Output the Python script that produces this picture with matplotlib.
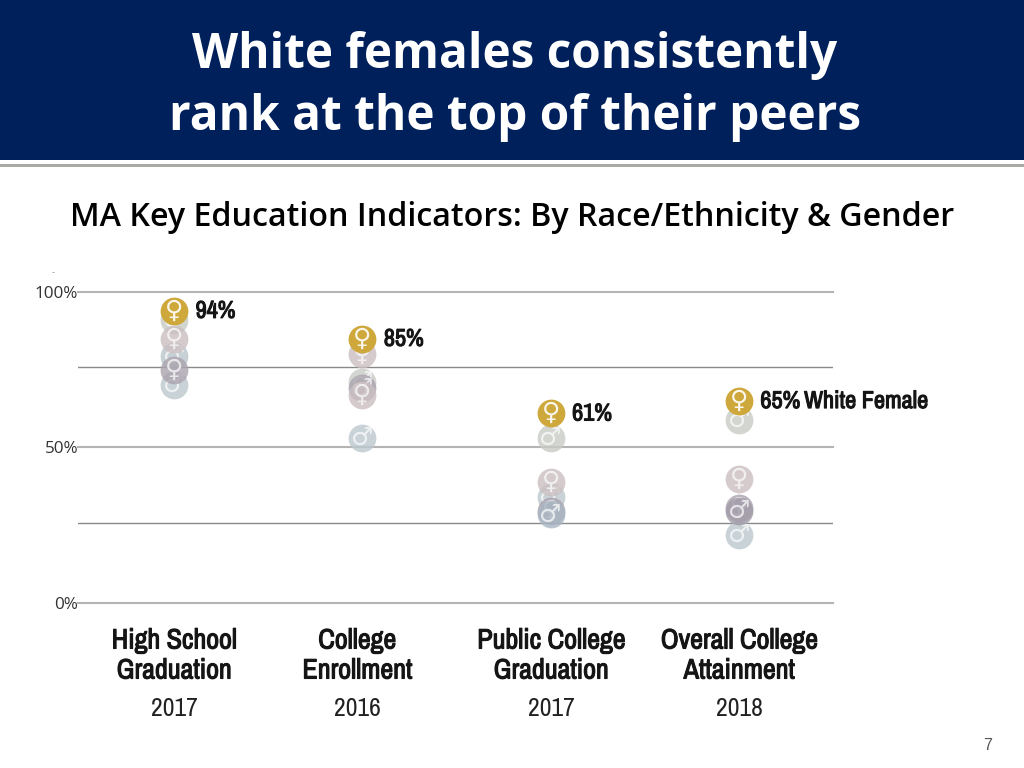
import matplotlib
matplotlib.use("Agg")
import matplotlib.pyplot as plt
import matplotlib.patheffects as pe
from matplotlib import font_manager as fm
from matplotlib.patches import Rectangle

W, H = 1024, 768

categories = ["High School\nGraduation", "College\nEnrollment", "Public College\nGraduation", "Overall College\nAttainment"]
years = ["2017", "2016", "2017", "2018"]
y_ticks = [0, 50.2, 100]
y_labels = ["0%", "50%", "100%"]
mid_lines = [25.7, 75.9]

# one row per category, drawn bottom to top, white female last
hs_values = [91, 70, 79.5, 75, 85, 94]
hs_signs = ["m", "m", "m", "f", "f", "f"]
hs_colors = ["#c9cbc6", "#bcc9ce", "#b9c5cb", "#aaa3ae", "#cbbfc1", "#cfa83c"]

enroll_values = [53, 71, 69, 67, 80, 85]
enroll_signs = ["m", "m", "m", "f", "f", "f"]
enroll_colors = ["#bcc9ce", "#c9cbc6", "#aaa3ae", "#cbbfc1", "#cbbfc1", "#cfa83c"]

public_values = [53, 34, 39, 29.5, 28.5, 61]
public_signs = ["m", "m", "f", "f", "m", "f"]
public_colors = ["#c9cbc6", "#bcc9ce", "#cbbfc1", "#aaa3ae", "#a8b6c2", "#cfa83c"]

overall_values = [59, 22, 40, 30.5, 29.5, 65]
overall_signs = ["m", "m", "f", "f", "m", "f"]
overall_colors = ["#c9cbc6", "#bcc9ce", "#cbbfc1", "#aaa3ae", "#a09ba8", "#cfa83c"]

top_labels = ["94%", "85%", "61%", "65%"]

all_values = [hs_values, enroll_values, public_values, overall_values]
all_signs = [hs_signs, enroll_signs, public_signs, overall_signs]
all_colors = [hs_colors, enroll_colors, public_colors, overall_colors]

names = sorted({f.name for f in fm.fontManager.ttflist})
cond = [n for n in names if "Narrow" in n or "Condensed" in n]
narrow = cond[0] if cond else "Roboto"
symbols = {"f": "\u2640", "m": "\u2642"}

# no heavy cut of the narrow face, thicken it with a stroke of the same colour
def thick(w):
    return [pe.withStroke(linewidth=w, foreground="#151515")]

fig = plt.figure(figsize=(W / 100, H / 100), dpi=100, facecolor="white")

def fx(px):
    return px / W

def fy(py):
    return 1 - py / H

# banner
fig.patches.append(Rectangle((0, fy(160)), 1, 160 / H, transform=fig.transFigure, facecolor="#00205c", edgecolor="none"))
fig.patches.append(Rectangle((0, fy(167)), 1, 2.5 / H, transform=fig.transFigure, facecolor="#a9aaa5", edgecolor="none"))
fig.text(fx(515), fy(56), "White females consistently", color="white", fontsize=34.4, fontweight="bold",
         family="Open Sans", ha="center", va="center")
fig.text(fx(515), fy(117), "rank at the top of their peers", color="white", fontsize=34.4, fontweight="bold",
         family="Open Sans", ha="center", va="center")
fig.text(fx(512), fy(217), "MA Key Education Indicators: By Race/Ethnicity & Gender", color="black", fontsize=23.2,
         fontweight="semibold", family="Open Sans", ha="center", va="center")

ax = fig.add_axes([fx(78), fy(603), fx(833 - 78), 311 / H])
ax.set_xlim(-0.51, 3.5)
ax.set_ylim(0, 100)
ax.patch.set_alpha(0)
for s in ax.spines.values():
    s.set_visible(False)
ax.set_xticks([])
ax.set_yticks(y_ticks)
ax.set_yticklabels(y_labels, fontsize=12.3, color="#333333", family="Open Sans")
ax.tick_params(axis="y", length=0, pad=0)

for v in y_ticks:
    ax.axhline(v, color="#b4b4b4", lw=1.5, zorder=1, clip_on=False)
for v in mid_lines:
    ax.axhline(v, color="#8a8a8a", lw=1.0, zorder=1)

fig.text(fx(53), fy(273), "-", ha="center", va="center", fontsize=6, color="#999999")

for i in range(4):
    z = 3
    for v, sign, c in zip(all_values[i], all_signs[i], all_colors[i]):
        gold = c == "#cfa83c"
        ax.scatter(i, v, s=400, color=c, alpha=1 if gold else 0.8, linewidths=0, zorder=z, clip_on=False)
        ax.annotate(symbols[sign], (i, v), ha="center", va="center", color="white", fontsize=18,
                    alpha=0.9 if gold else 0.7, family="DejaVu Sans", zorder=z + 0.5, annotation_clip=False)
        z += 1
    ax.annotate(top_labels[i], (i, all_values[i][-1]), xytext=(15.5, -0.5), textcoords="offset points",
                ha="left", va="center", fontsize=17.5, family=narrow, stretch="condensed",
                color="#151515", zorder=20, path_effects=thick(0.8))
    x_px = [174, 357, 551, 739][i]
    fig.text(fx(x_px), fy(656), categories[i], ha="center", va="center", fontsize=20.2,
             family=narrow, stretch="condensed", color="#151515", linespacing=1.25, path_effects=thick(0.8))
    fig.text(fx(x_px), fy(709), years[i], ha="center", va="center", fontsize=18.5,
             family=narrow, stretch="condensed", color="#222222")

ax.annotate("White Female", (3, all_values[3][-1]), xytext=(47, -0.5), textcoords="offset points",
            ha="left", va="center", fontsize=17.5, family=narrow, stretch="condensed",
            color="#151515", zorder=20, path_effects=thick(0.8))

fig.text(fx(988), fy(746), "7", ha="center", va="center", fontsize=11.5, color="#555555", family="Liberation Sans")

fig.savefig("out.png", dpi=100)
